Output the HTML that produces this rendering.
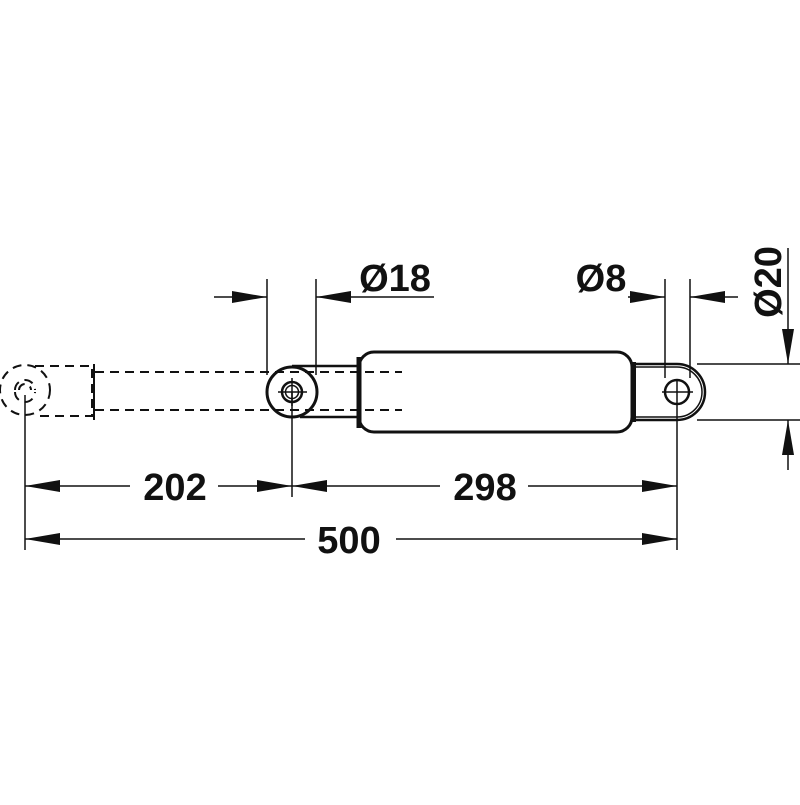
<!DOCTYPE html>
<html><head><style>html,body{margin:0;background:#fff}</style></head><body>
<svg width="800" height="800" viewBox="0 0 800 800" xmlns="http://www.w3.org/2000/svg">
<defs>
<marker id="a" markerWidth="36" markerHeight="12" refX="35" refY="6" orient="auto" markerUnits="userSpaceOnUse"><path d="M0,0 L35,6 L0,12 Z" fill="#111"/></marker>
</defs>
<g fill="none" stroke="#111">
<!-- ghost left -->
<g stroke-width="2" stroke-dasharray="9,6">
<circle cx="25" cy="390" r="25"/>
<path d="M35,366 H92 V416 H35"/>
<path d="M95,372 H402 M95,410 H402"/>
<path d="M15,390 a10,10 0 0 1 20,0 M19,390 a6,6 0 0 1 12,0 M15,392 a10,10 0 0 0 20,0"/>
</g>
<line x1="94" y1="364" x2="94" y2="420" stroke-width="2"/>
<!-- body -->
<rect x="359" y="352" width="273" height="80" rx="15" stroke-width="3"/>
<line x1="359" y1="357" x2="359" y2="428" stroke-width="5"/>
<!-- left eye rod -->
<path d="M292,366 H359 M300,417 H359" stroke-width="2.5"/>
<circle cx="292" cy="392" r="25" stroke-width="3"/>
<circle cx="292" cy="392" r="10" stroke-width="2.5"/>
<circle cx="292" cy="392" r="6.5" stroke-width="1.5"/>
<path d="M278,392 H307 M292,378 V406" stroke-width="1.5"/>
<!-- right eye -->
<path d="M634,364 H677 A28,28 0 0 1 677,420 H634" stroke-width="2.5"/>
<path d="M636,367 H677 A25,25 0 0 1 677,417 H636" stroke-width="1.5"/>
<line x1="634" y1="362" x2="634" y2="422" stroke-width="4"/>
<circle cx="677" cy="392" r="12" stroke-width="2.5"/>
<path d="M662,392 H693" stroke-width="1.5"/>
<!-- extension lines -->
<g stroke-width="1.5">
<line x1="25" y1="395" x2="25" y2="550"/>
<line x1="292" y1="392" x2="292" y2="497"/>
<line x1="677" y1="380" x2="677" y2="550"/>
<line x1="267" y1="279" x2="267" y2="375"/>
<line x1="316" y1="279" x2="316" y2="375"/>
<line x1="665" y1="279" x2="665" y2="378"/>
<line x1="690" y1="279" x2="690" y2="378"/>
<line x1="697" y1="364" x2="800" y2="364"/>
<line x1="697" y1="420" x2="800" y2="420"/>
<!-- dims -->
<line x1="130" y1="486" x2="25" y2="486" marker-end="url(#a)"/>
<line x1="218" y1="486" x2="292" y2="486" marker-end="url(#a)"/>
<line x1="440" y1="486" x2="292" y2="486" marker-end="url(#a)"/>
<line x1="528" y1="486" x2="677" y2="486" marker-end="url(#a)"/>
<line x1="305" y1="539" x2="25" y2="539" marker-end="url(#a)"/>
<line x1="396" y1="539" x2="677" y2="539" marker-end="url(#a)"/>
<line x1="214" y1="297" x2="267" y2="297" marker-end="url(#a)"/>
<line x1="434" y1="297" x2="316" y2="297" marker-end="url(#a)"/>
<line x1="628" y1="297" x2="665" y2="297" marker-end="url(#a)"/>
<line x1="738" y1="297" x2="690" y2="297" marker-end="url(#a)"/>
<line x1="788" y1="248" x2="788" y2="364" marker-end="url(#a)"/>
<line x1="788" y1="470" x2="788" y2="420" marker-end="url(#a)"/>
</g>
</g>
<g font-family="Liberation Sans, sans-serif" font-weight="bold" font-size="38" fill="#111">
<text x="175" y="500" text-anchor="middle">202</text>
<text x="485" y="500" text-anchor="middle">298</text>
<text x="349" y="553" text-anchor="middle">500</text>
<text x="395" y="291" text-anchor="middle">Ø18</text>
<text x="601" y="291" text-anchor="middle">Ø8</text>
<text transform="translate(781,282) rotate(-90)" text-anchor="middle">Ø20</text>
</g>
</svg>
</body></html>
